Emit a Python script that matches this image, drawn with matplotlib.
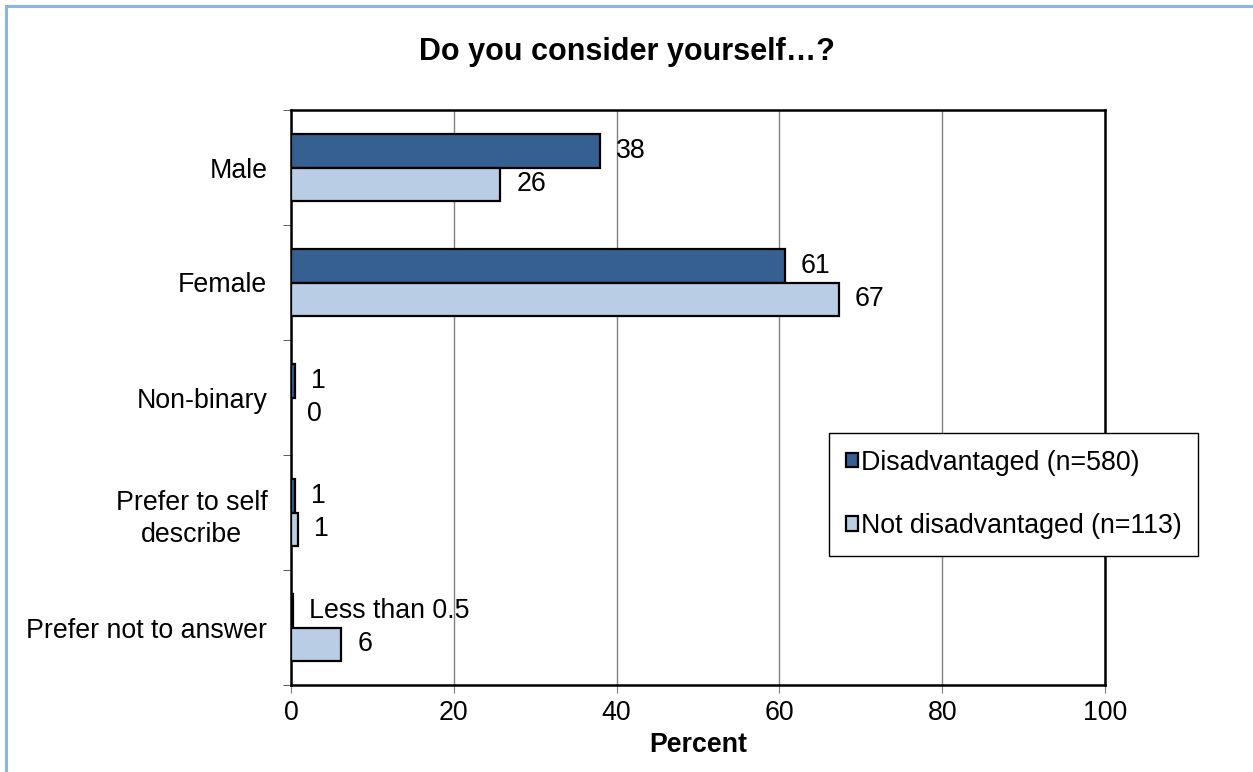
import numpy as np
import matplotlib.pyplot as plt
from matplotlib.patches import Rectangle

plt.rcParams['font.family'] = ['Liberation Sans', 'DejaVu Sans']

# Data
categories = ['Male', 'Female', 'Non-binary', 'Prefer to self\ndescribe', 'Prefer not to answer']
disadvantaged = [38.0, 60.7, 0.5, 0.5, 0.3]
not_disadvantaged = [25.7, 67.3, 0.0, 0.9, 6.2]
disadv_labels = ['38', '61', '1', '1', 'Less than 0.5']
not_disadv_labels = ['26', '67', '0', '1', '6']
series_names = ['Disadvantaged (n=580)', 'Not disadvantaged (n=113)']

dark = '#376092'
light = '#B9CDE5'
fs = 19.3

fig = plt.figure(figsize=(12.53, 7.72), dpi=100)
ax = fig.add_axes([291 / 1253, 1 - 685 / 772, (1105 - 291) / 1253, (685 - 110) / 772])

# blue outer frame (only top and left edge visible in the reference)
fig.patches.append(Rectangle((6 / 1253, -0.1), 1.2, 1 - 6 / 772 + 0.1, transform=fig.transFigure,
                             fill=False, edgecolor='#8DB3E2', linewidth=2.2, zorder=0))

y = np.arange(len(categories))
h = 0.287
ax.barh(y - h / 2, disadvantaged, height=h, color=dark, edgecolor='black', linewidth=1.6,
        label=series_names[0], zorder=3)
ax.barh(y + h / 2, not_disadvantaged, height=h, color=light, edgecolor='black', linewidth=1.6,
        label=series_names[1], zorder=3)

# value labels, offset a fixed distance right of the bar end
for i in range(len(categories)):
    ax.annotate(disadv_labels[i], (disadvantaged[i], y[i] - h / 2), xytext=(11.5, 0),
                textcoords='offset points', va='center', ha='left', fontsize=fs)
    ax.annotate(not_disadv_labels[i], (not_disadvantaged[i], y[i] + h / 2), xytext=(11.5, 0),
                textcoords='offset points', va='center', ha='left', fontsize=fs)

ax.set_xlim(0, 100)
ax.set_ylim(len(categories) - 0.5, -0.5)
ax.set_xticks(np.arange(0, 101, 20))
ax.tick_params(axis='x', labelsize=fs, length=6, color='#808080', pad=5)
ax.set_yticks(y)
ax.set_yticklabels(categories, fontsize=fs, ha='right', multialignment='center', linespacing=1.35)
ax.tick_params(axis='y', which='major', length=0, pad=17)
ax.set_yticks(np.arange(-0.5, len(categories)), minor=True)
ax.tick_params(axis='y', which='minor', length=6, color='#404040')
ax.xaxis.grid(True, color='#808080', linewidth=1)
ax.set_axisbelow(True)
for s in ax.spines.values():
    s.set_linewidth(1.8)
    s.set_color('black')

ax.set_xlabel('Percent', fontsize=fs, fontweight='bold', labelpad=4)
fig.text(0.5, 1 - 52 / 772, 'Do you consider yourself\u2026?', ha='center', va='center',
         fontsize=22, fontweight='bold')

leg = ax.legend(loc='upper left', bbox_to_anchor=((829 - 291) / 814, 1 - (433 - 110) / 575),
                fontsize=fs, fancybox=False, framealpha=1, edgecolor='black',
                handlelength=0.45, handleheight=0.45, handletextpad=0.12, labelspacing=1.4,
                borderpad=0.62, borderaxespad=0)
leg.get_frame().set_linewidth(1.0)

fig.savefig('out.png', dpi=100)
